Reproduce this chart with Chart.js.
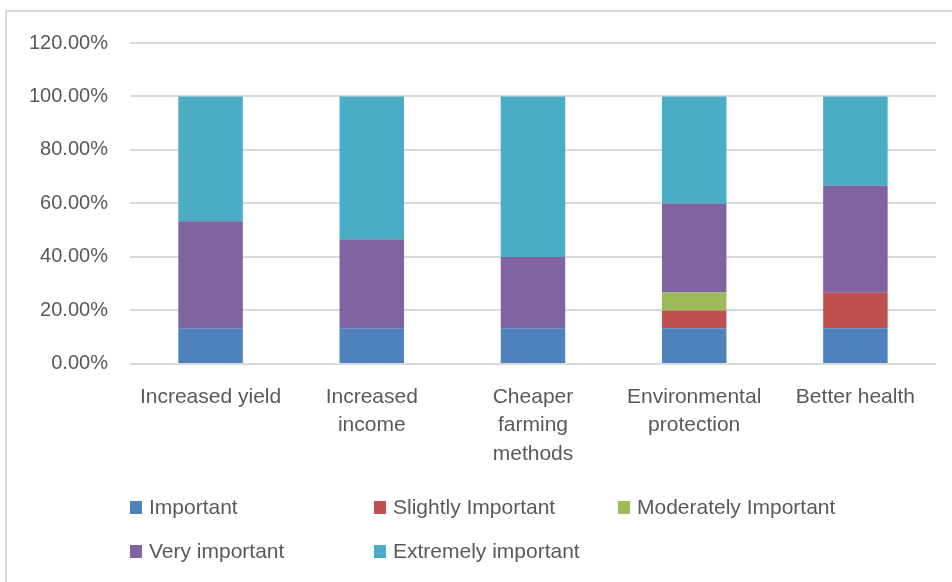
<!DOCTYPE html>
<html>
<head>
<meta charset="utf-8">
<script src="https://cdn.jsdelivr.net/npm/chart.js@4/dist/chart.umd.min.js"></script>
<style>
  html, body { margin: 0; padding: 0; background: #fff; }
  #wrap { position: relative; width: 952px; height: 582px; overflow: hidden; }
  #frame { position: absolute; left: 5px; top: 10px; width: 980px; height: 600px; border: 2px solid #d9d9d9; box-sizing: border-box; }
  canvas { position: absolute; left: 0; top: 0; }
</style>
</head>
<body>
<div id="wrap">
  <div id="frame"></div>
  <canvas id="chart" width="952" height="582"></canvas>
</div>
<script>
const categories = [
  "Increased yield",
  ["Increased", "income"],
  ["Cheaper", "farming", "methods"],
  ["Environmental", "protection"],
  "Better health"
];
const seriesNames = ["Important", "Slightly Important", "Moderately Important", "Very important", "Extremely important"];
const seriesColors = ["#4f81bd", "#c0504d", "#9bbb59", "#8064a2", "#4bacc6"];

const important = [13.33, 13.33, 13.33, 13.33, 13.33];
const slightly = [0, 0, 0, 6.67, 13.33];
const moderately = [0, 0, 0, 6.67, 0];
const veryImportant = [40, 33.33, 26.67, 33.33, 40];
const extremely = [46.67, 53.34, 60, 40, 33.34];

const yTicks = [0, 20, 40, 60, 80, 100, 120];

const fontFamily = "'Liberation Sans', Arial, sans-serif";
const textColor = "#595959";

const legendPlugin = {
  id: "gridLegend",
  afterDraw(chart) {
    const c = chart.ctx;
    const left = chart.chartArea.left;
    c.save();
    c.font = "21px " + fontFamily;
    c.textBaseline = "middle";
    chart.data.datasets.forEach((ds, i) => {
      const col = i % 3, row = Math.floor(i / 3);
      const x = left + col * 244;
      const y = 507 + row * 44;
      c.fillStyle = ds.backgroundColor;
      c.fillRect(x, y - 6, 12, 13);
      c.fillStyle = textColor;
      c.fillText(ds.label, x + 19, y + 1);
    });
    c.restore();
  }
};

const values = [important, slightly, moderately, veryImportant, extremely];

new Chart(document.getElementById("chart"), {
  type: "bar",
  data: {
    labels: categories,
    datasets: seriesNames.map((name, i) => ({
      label: name,
      data: values[i],
      backgroundColor: seriesColors[i],
      categoryPercentage: 1,
      barPercentage: 0.4
    }))
  },
  options: {
    responsive: false,
    animation: false,
    layout: { padding: { left: 7, right: 16, top: 43, bottom: 103 } },
    plugins: { legend: { display: false }, tooltip: { enabled: false } },
    scales: {
      x: {
        stacked: true,
        grid: { display: false },
        border: { display: false },
        ticks: { color: textColor, font: { family: fontFamily, size: 21, lineHeight: 1.35 }, maxRotation: 0, autoSkip: false, padding: 11 }
      },
      y: {
        stacked: true,
        min: 0,
        max: 120,
        afterBuildTicks(axis) { axis.ticks = yTicks.map(v => ({ value: v })); },
        grid: { color: "#d9d9d9", lineWidth: 2, drawTicks: false },
        border: { display: false },
        ticks: {
          color: textColor,
          font: { family: fontFamily, size: 20 },
          padding: 22,
          callback: v => v.toFixed(2) + "%"
        }
      }
    }
  },
  plugins: [legendPlugin]
});
</script>
</body>
</html>
